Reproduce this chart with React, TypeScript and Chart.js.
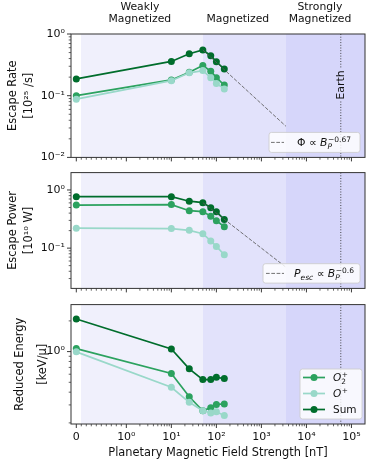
import React, { useEffect, useRef } from 'react';
import { Chart, registerables, Scale } from 'chart.js';

Chart.register(...registerables);

const FONT = '"DejaVu Sans", sans-serif';

// ---------------- data ----------------
const fieldStrength = [0, 10, 25, 50, 75, 100, 150];

const rateO2 = [0.1, 0.18, 0.24, 0.308, 0.249, 0.196, 0.149];
const rateO = [0.088, 0.175, 0.235, 0.255, 0.196, 0.158, 0.129];
const rateSum = [0.187, 0.359, 0.478, 0.551, 0.445, 0.355, 0.27];

const powerO2 = [0.55, 0.56, 0.44, 0.424, 0.355, 0.297, 0.233];
const powerO = [0.22, 0.217, 0.202, 0.177, 0.133, 0.107, 0.077];
const powerSum = [0.768, 0.768, 0.641, 0.606, 0.494, 0.424, 0.31];

const energyO2 = [1.07, 0.61, 0.361, 0.263, 0.282, 0.303, 0.307];
const energyO = [0.994, 0.447, 0.318, 0.263, 0.25, 0.257, 0.236];
const energySum = [2.09, 1.06, 0.678, 0.532, 0.532, 0.56, 0.544];

const rateFitX = [50, 3500];
const rateFitY = [0.551, 0.032];
const powerFitX = [50, 3500];
const powerFitY = [0.606, 0.047];

const xTickValues = [0, 1, 10, 100, 1000, 10000, 100000];
const xTickLabels = ['0', '10⁰', '10¹', '10²', '10³', '10⁴', '10⁵'];

const rateTicks = [0.01, 0.1, 1];
const rateTickLabels = ['10⁻²', '10⁻¹', '10⁰'];
const powerTicks = [0.1, 1];
const powerTickLabels = ['10⁻¹', '10⁰'];
const energyTicks = [1];
const energyTickLabels = ['10⁰'];

const regionStarts = [0.1, 50, 3500];
const regionColors = ['#f0f0fc', '#e2e2fb', '#d6d6fa'];
const regionLabels = [['Weakly', 'Magnetized'], ['Magnetized'], ['Strongly', 'Magnetized']];
const regionLabelX = [2, 300, 20000];
const earthField = 58000;

const C_O2 = '#2ca25f';
const C_O = '#99d8c9';
const C_SUM = '#006d2c';

const X_MIN = -0.106;
const X_MAX = 2.0e5;

// ---------------- symlog scale ----------------
const LIN_ADJ = 1 / (1 - 1 / 10);
function symT(v: number) {
  const a = Math.abs(v);
  const t = a <= 1 ? a * LIN_ADJ : LIN_ADJ + Math.log10(a);
  return v < 0 ? -t : t;
}
function symInv(t: number) {
  const a = Math.abs(t);
  const v = a <= LIN_ADJ ? a / LIN_ADJ : Math.pow(10, a - LIN_ADJ);
  return t < 0 ? -v : v;
}

class SymlogScale extends Scale {
  static id = 'symlog';
  static defaults = {};
  parse(raw: any) {
    const n = Number(raw);
    return isFinite(n) ? n : null;
  }
  determineDataLimits() {
    const o: any = this.options;
    const mm = (this as any).getMinMax(true);
    (this as any).min = typeof o.min === 'number' ? o.min : mm.min;
    (this as any).max = typeof o.max === 'number' ? o.max : mm.max;
  }
  buildTicks() {
    const s: any = this;
    return xTickValues.filter((v) => v >= s.min && v <= s.max).map((v) => ({ value: v }));
  }
  configure() {
    super.configure();
    const s: any = this;
    s._t0 = symT(s.min);
    s._t1 = symT(s.max);
  }
  getPixelForValue(v: number) {
    const s: any = this;
    return s.getPixelForDecimal((symT(v) - s._t0) / (s._t1 - s._t0));
  }
  getValueForPixel(p: number) {
    const s: any = this;
    return symInv(s._t0 + s.getDecimalForPixel(p) * (s._t1 - s._t0));
  }
  getLabelForValue(v: number) {
    return String(v);
  }
}
Chart.register(SymlogScale as any);

// ---------------- helpers ----------------
function xMinorValues() {
  const out: number[] = [];
  for (let i = 1; i <= 9; i++) out.push(i / 10);
  for (let k = 0; k <= 5; k++) for (let m = 2; m <= 9; m++) out.push(m * Math.pow(10, k));
  return out.filter((v) => v > X_MIN && v < X_MAX);
}
function yMinorValues(min: number, max: number) {
  const out: number[] = [];
  for (let k = Math.floor(Math.log10(min)); k <= Math.ceil(Math.log10(max)); k++)
    for (let m = 2; m <= 9; m++) {
      const v = m * Math.pow(10, k);
      if (v > min && v < max) out.push(v);
    }
  return out;
}
function yMajorValues(min: number, max: number) {
  const out: number[] = [];
  for (let k = Math.floor(Math.log10(min)); k <= Math.ceil(Math.log10(max)); k++) {
    const v = Math.pow(10, k);
    if (v >= min * 0.9999 && v <= max * 1.0001) out.push(v);
  }
  return out;
}

type Seg = { t?: string; i?: boolean; sub?: string; subI?: boolean; sup?: string };
function drawRich(ctx: CanvasRenderingContext2D, segs: Seg[], x: number, y: number, fs: number) {
  ctx.textAlign = 'left';
  ctx.textBaseline = 'alphabetic';
  ctx.fillStyle = '#111';
  let cx = x;
  for (const s of segs) {
    if (s.t) {
      ctx.font = `${s.i ? 'italic ' : ''}${fs}px ${FONT}`;
      ctx.fillText(s.t, cx, y);
      cx += ctx.measureText(s.t).width;
    }
    const ss = fs * 0.7;
    let w = 0;
    if (s.sup) {
      ctx.font = `${ss}px ${FONT}`;
      ctx.fillText(s.sup, cx + 0.5, y - fs * 0.42);
      w = Math.max(w, ctx.measureText(s.sup).width + 0.5);
    }
    if (s.sub) {
      ctx.font = `${s.subI ? 'italic ' : ''}${ss}px ${FONT}`;
      ctx.fillText(s.sub, cx, y + fs * 0.22);
      w = Math.max(w, ctx.measureText(s.sub).width);
    }
    cx += w;
  }
}

function roundRect(ctx: CanvasRenderingContext2D, x: number, y: number, w: number, h: number, r: number) {
  ctx.beginPath();
  ctx.moveTo(x + r, y);
  ctx.arcTo(x + w, y, x + w, y + h, r);
  ctx.arcTo(x + w, y + h, x, y + h, r);
  ctx.arcTo(x, y + h, x, y, r);
  ctx.arcTo(x, y, x + w, y, r);
  ctx.closePath();
}
function legendBox(ctx: CanvasRenderingContext2D, x: number, y: number, w: number, h: number) {
  roundRect(ctx, x, y, w, h, 2.5);
  ctx.fillStyle = 'rgba(255,255,255,0.82)';
  ctx.fill();
  ctx.strokeStyle = 'rgba(204,204,204,0.85)';
  ctx.lineWidth = 1;
  ctx.stroke();
}

// ---------------- plugins ----------------
const bgPlugin = {
  id: 'bgRegions',
  beforeDatasetsDraw(chart: any) {
    const { ctx, chartArea: ca } = chart;
    const x = chart.scales.x;
    ctx.save();
    ctx.beginPath();
    ctx.rect(ca.left, ca.top, ca.right - ca.left, ca.bottom - ca.top);
    ctx.clip();
    const edges = [...regionStarts, X_MAX * 100];
    for (let i = 0; i < regionColors.length; i++) {
      const a = Math.round(x.getPixelForValue(edges[i]));
      const b = Math.round(x.getPixelForValue(edges[i + 1]));
      ctx.fillStyle = regionColors[i];
      ctx.fillRect(a, ca.top, b - a, ca.bottom - ca.top);
    }
    const ex = x.getPixelForValue(earthField);
    ctx.strokeStyle = '#333';
    ctx.lineWidth = 0.9;
    ctx.setLineDash([1, 1.7]);
    ctx.beginPath();
    ctx.moveTo(ex, ca.top);
    ctx.lineTo(ex, ca.bottom);
    ctx.stroke();
    ctx.restore();
  },
};

const frameTicksPlugin = {
  id: 'frameTicks',
  afterDatasetsDraw(chart: any) {
    const { ctx, chartArea: ca } = chart;
    const x = chart.scales.x;
    const y = chart.scales.y;
    ctx.save();
    ctx.strokeStyle = '#222';
    const tick = (x1: number, y1: number, x2: number, y2: number, w: number) => {
      ctx.lineWidth = w;
      ctx.beginPath();
      ctx.moveTo(x1, y1);
      ctx.lineTo(x2, y2);
      ctx.stroke();
    };
    xTickValues.forEach((v) => {
      if (v < X_MIN || v > X_MAX) return;
      const px = x.getPixelForValue(v);
      tick(px, ca.bottom, px, ca.bottom + 4, 0.9);
    });
    xMinorValues().forEach((v) => {
      const px = x.getPixelForValue(v);
      tick(px, ca.bottom, px, ca.bottom + 2.3, 0.7);
    });
    yMajorValues(y.min, y.max).forEach((v) => {
      const py = y.getPixelForValue(v);
      tick(ca.left - 4, py, ca.left, py, 0.9);
    });
    yMinorValues(y.min, y.max).forEach((v) => {
      const py = y.getPixelForValue(v);
      tick(ca.left - 2.3, py, ca.left, py, 0.7);
    });
    ctx.lineWidth = 1;
    ctx.strokeStyle = '#333';
    ctx.strokeRect(ca.left, ca.top, ca.right - ca.left, ca.bottom - ca.top);
    ctx.restore();
  },
};

const topTextPlugin = {
  id: 'topText',
  afterDraw(chart: any) {
    const { ctx, chartArea: ca } = chart;
    const x = chart.scales.x;
    ctx.save();
    ctx.fillStyle = '#111';
    ctx.font = `10.8px ${FONT}`;
    ctx.textAlign = 'center';
    ctx.textBaseline = 'middle';
    regionLabels.forEach((lines, i) => {
      const px = x.getPixelForValue(regionLabelX[i]);
      const yBottom = 19;
      lines.forEach((ln, j) => {
        ctx.fillText(ln, px, yBottom - (lines.length - 1 - j) * 12);
      });
    });
    // Earth label
    const ex = x.getPixelForValue(earthField);
    ctx.translate(ex, ca.top + 51);
    ctx.rotate(-Math.PI / 2);
    ctx.fillStyle = regionColors[2];
    ctx.fillRect(-16, -6.5, 32, 13);
    ctx.fillStyle = '#111';
    ctx.fillText('Earth', 0, 0.5);
    ctx.restore();
  },
};

function fitLegendPlugin(id: string, segs: Seg[], dx: number, dy: number, w: number, h: number, dashFrom: number, dashTo: number, textX: number) {
  return {
    id,
    afterDatasetsDraw(chart: any) {
      const { ctx, chartArea: ca } = chart;
      const bx = ca.right - dx;
      const by = ca.bottom - dy;
      ctx.save();
      legendBox(ctx, bx, by, w, h);
      const cy = by + h / 2;
      ctx.strokeStyle = 'rgba(90,90,90,0.85)';
      ctx.lineWidth = 1;
      ctx.setLineDash([3.7, 1.6]);
      ctx.beginPath();
      ctx.moveTo(bx + dashFrom, cy);
      ctx.lineTo(bx + dashTo, cy);
      ctx.stroke();
      ctx.setLineDash([]);
      drawRich(ctx, segs, bx + textX, cy + 3.8, 10.8);
      ctx.restore();
    },
  };
}

const seriesLegendPlugin = {
  id: 'seriesLegend',
  afterDatasetsDraw(chart: any) {
    const { ctx, chartArea: ca } = chart;
    const bx = ca.right - 65;
    const by = ca.bottom - 55;
    ctx.save();
    legendBox(ctx, bx, by, 62, 50);
    const items: { c: string; segs: Seg[] }[] = [
      { c: C_O2, segs: [{ t: 'O', i: true, sub: '2', sup: '+' }] },
      { c: C_O, segs: [{ t: 'O', i: true, sup: '+' }] },
      { c: C_SUM, segs: [{ t: 'Sum' }] },
    ];
    items.forEach((it, k) => {
      const cy = by + 8.5 + k * 16;
      ctx.strokeStyle = it.c;
      ctx.lineWidth = 1.7;
      ctx.beginPath();
      ctx.moveTo(bx + 3, cy);
      ctx.lineTo(bx + 25, cy);
      ctx.stroke();
      ctx.fillStyle = it.c;
      ctx.beginPath();
      ctx.arc(bx + 14, cy, 3.5, 0, Math.PI * 2);
      ctx.fill();
      drawRich(ctx, it.segs, bx + 33, cy + 3.8, 10.5);
    });
    ctx.restore();
  },
};

// ---------------- chart config builders ----------------
function series(label: string, xs: number[], ys: number[], color: string, order: number) {
  return {
    label,
    data: xs.map((x, i) => ({ x, y: ys[i] })),
    borderColor: color,
    backgroundColor: color,
    pointBackgroundColor: color,
    pointBorderColor: color,
    pointBorderWidth: 0,
    pointRadius: 3.5,
    borderWidth: 1.7,
    tension: 0,
    order,
  };
}
function fitSeries(xs: number[], ys: number[]) {
  return {
    label: 'fit',
    data: xs.map((x, i) => ({ x, y: ys[i] })),
    borderColor: 'rgba(90,90,90,0.85)',
    borderWidth: 1,
    borderDash: [3.7, 1.6],
    pointRadius: 0,
    tension: 0,
    order: 0,
  };
}

function xAxis(showLabels: boolean, height: number) {
  return {
    type: 'symlog',
    min: X_MIN,
    max: X_MAX,
    position: 'bottom',
    afterFit: (s: any) => {
      s.height = height;
    },
    ticks: {
      display: showLabels,
      autoSkip: false,
      maxRotation: 0,
      padding: 2.5,
      color: '#111',
      font: { family: FONT, size: 11 },
      callback: (v: number) => {
        const i = xTickValues.indexOf(v);
        return i >= 0 ? xTickLabels[i] : '';
      },
    },
    grid: { drawOnChartArea: false, drawTicks: true, tickLength: 4, tickColor: 'rgba(0,0,0,0)' },
    border: { display: false },
    title: {
      display: showLabels,
      text: 'Planetary Magnetic Field Strength [nT]',
      color: '#111',
      font: { family: FONT, size: 11.4 },
      padding: { top: 0, bottom: 7 },
    },
  };
}

function yAxis(min: number, max: number, ticks: number[], labels: string[], title: string[], padTop: number, lineH: number) {
  return {
    type: 'logarithmic',
    min,
    max,
    position: 'left',
    afterFit: (s: any) => {
      s.width = 71;
    },
    afterBuildTicks: (s: any) => {
      s.ticks = ticks.filter((v) => v >= min * 0.9999 && v <= max * 1.0001).map((v) => ({ value: v }));
    },
    ticks: {
      autoSkip: false,
      padding: 2,
      color: '#111',
      font: { family: FONT, size: 11 },
      callback: (v: number) => {
        const i = ticks.findIndex((t) => Math.abs(t - v) / t < 1e-6);
        return i >= 0 ? labels[i] : '';
      },
    },
    grid: { drawOnChartArea: false, drawTicks: true, tickLength: 4, tickColor: 'rgba(0,0,0,0)' },
    border: { display: false },
    title: {
      display: true,
      text: title,
      color: '#111',
      font: { family: FONT, size: 11.4, lineHeight: `${lineH}px` },
      padding: { top: padTop, bottom: 0 },
    },
  };
}

function options(padTop: number, x: any, y: any) {
  return {
    responsive: false,
    maintainAspectRatio: false,
    animation: false,
    devicePixelRatio: 1,
    events: [],
    layout: { padding: { top: padTop, right: 9, left: 0, bottom: 0 } },
    plugins: { legend: { display: false }, tooltip: { enabled: false } },
    scales: { x, y },
  };
}

export default function App() {
  const r1 = useRef<HTMLCanvasElement>(null);
  const r2 = useRef<HTMLCanvasElement>(null);
  const r3 = useRef<HTMLCanvasElement>(null);

  useEffect(() => {
    const c1 = new Chart(r1.current as HTMLCanvasElement, {
      type: 'line',
      data: {
        datasets: [
          series('O2+', fieldStrength, rateO2, C_O2, 3),
          series('O+', fieldStrength, rateO, C_O, 2),
          series('Sum', fieldStrength, rateSum, C_SUM, 1),
          fitSeries(rateFitX, rateFitY),
        ],
      },
      options: options(34, xAxis(false, 4), yAxis(0.01, 1, rateTicks, rateTickLabels, ['Escape Rate', '[10²⁵ /s]'], 5, 16)) as any,
      plugins: [
        bgPlugin,
        frameTicksPlugin,
        topTextPlugin,
        fitLegendPlugin('leg1', [{ t: 'Φ ∝ ' }, { t: 'B', i: true, sub: 'P', subI: true, sup: '−0.67' }], 96, 25, 91, 20, 2, 15, 28),
      ],
    } as any);

    const c2 = new Chart(r2.current as HTMLCanvasElement, {
      type: 'line',
      data: {
        datasets: [
          series('O2+', fieldStrength, powerO2, C_O2, 3),
          series('O+', fieldStrength, powerO, C_O, 2),
          series('Sum', fieldStrength, powerSum, C_SUM, 1),
          fitSeries(powerFitX, powerFitY),
        ],
      },
      options: options(1, xAxis(false, 4), yAxis(0.0203, 1.99, powerTicks, powerTickLabels, ['Escape Power', '[10¹⁰ W]'], 5, 16)) as any,
      plugins: [
        bgPlugin,
        frameTicksPlugin,
        fitLegendPlugin('leg2', [{ t: 'P', i: true, sub: 'esc', subI: true }, { t: ' ∝ ' }, { t: 'B', i: true, sub: 'P', subI: true, sup: '−0.6' }], 102, 24.7, 97, 19.4, 3, 21, 31),
      ],
    } as any);

    const c3 = new Chart(r3.current as HTMLCanvasElement, {
      type: 'line',
      data: {
        datasets: [
          series('O2+', fieldStrength, energyO2, C_O2, 3),
          series('O+', fieldStrength, energyO, C_O, 2),
          series('Sum', fieldStrength, energySum, C_SUM, 1),
        ],
      },
      options: options(1, xAxis(true, 43), yAxis(0.195, 2.89, energyTicks, energyTickLabels, ['Reduced Energy', '[keV/μ]'], 8.5, 23)) as any,
      plugins: [bgPlugin, frameTicksPlugin, seriesLegendPlugin],
    } as any);

    return () => {
      c1.destroy();
      c2.destroy();
      c3.destroy();
    };
  }, []);

  const cs = (top: number, h: number): React.CSSProperties => ({ position: 'absolute', left: 0, top, width: 374, height: h });

  return (
    <div style={{ position: 'absolute', left: 0, top: 0, width: 374, height: 467, background: '#fff' }}>
      <canvas ref={r1} width={374} height={166} style={cs(0, 166)} />
      <canvas ref={r2} width={374} height={133} style={cs(164, 133)} />
      <canvas ref={r3} width={374} height={171} style={cs(296, 171)} />
    </div>
  );
}
